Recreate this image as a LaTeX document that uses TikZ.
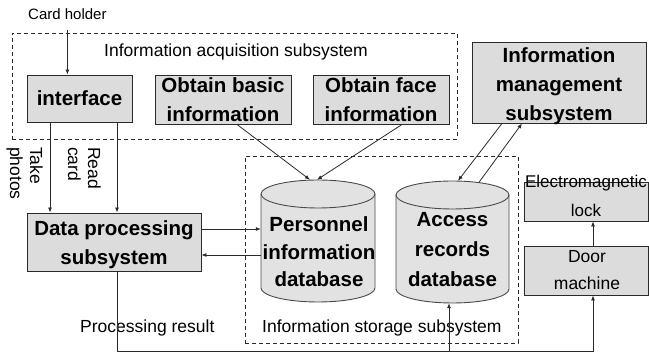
\documentclass[tikz,border=0pt]{standalone}
\usepackage{fontspec}
\setmainfont{Liberation Sans}
\usetikzlibrary{arrows.meta}
\definecolor{boxfill}{HTML}{DCDCDC}
\definecolor{cylfill}{HTML}{E2E2E2}
\definecolor{edge}{HTML}{2A2A2A}
\definecolor{cyledge}{HTML}{4A4A4A}
\begin{document}
\begin{tikzpicture}[x=1pt,y=1pt,
  box/.style={draw=edge, fill=boxfill, line width=0.9pt, inner sep=0pt},
  dashbox/.style={draw=edge, dash pattern=on 4pt off 3pt, line width=0.8pt, inner sep=0pt},
  txt/.style n args={3}{font=\fontsize{#1}{#2}\selectfont#3, align=center, inner sep=0pt},
  bold/.style={txt={20.5}{29}{\bfseries}},
  lbl/.style={font=\fontsize{17.5}{20}\selectfont, inner sep=0pt},
  rotlbl/.style={font=\fontsize{17.5}{20}\selectfont, inner sep=0pt, align=left, rotate=-90, anchor=north west},
  cyl/.style={draw=cyledge, fill=cylfill, line width=0.9pt},
  cylline/.style={draw=cyledge, line width=0.9pt},
  arr/.style={-{Latex[length=5pt,width=4pt]}, line width=0.8pt, draw=edge},
]
\useasboundingbox (0,0) rectangle (649,353);

% subsystem frames and free labels
\node[dashbox, minimum width=445pt, minimum height=106pt] (acq) at (234.5,267) {};
\node[lbl, anchor=base west] (acqt) at (104,296.5) {Information acquisition subsystem};
\node[dashbox, minimum width=273pt, minimum height=187pt] (sto) at (381.5,103.5) {};
\node[lbl, anchor=base west] (stot) at (262,20) {Information storage subsystem};
\node[lbl, anchor=base west] (prt) at (80,20) {Processing result};
\node[font=\fontsize{15}{18}\selectfont, inner sep=0pt, anchor=base west] (ch) at (28,333) {Card holder};

% boxes
\node[box, bold, minimum width=105pt, minimum height=47pt] (iface) at (79.5,254.5) {interface};
\node[box, bold, minimum width=136pt, minimum height=49pt] (basic) at (223,253.5) {Obtain basic\\information};
\node[box, bold, minimum width=136pt, minimum height=49pt] (face) at (381,253.5) {Obtain face\\information};
\node[box, minimum width=174pt, minimum height=81pt] (mgmt) at (559,270.5) {};
\node[bold] (mgmtt) at (559,267.2) {Information\\management\\subsystem};
\node[box, minimum width=174pt, minimum height=58pt] (dp) at (114,111) {};
\node[bold] (dpt) at (114,108.7) {Data processing\\subsystem};
\node[box, minimum width=124pt, minimum height=39pt] (lock) at (586,151.5) {};
\node[txt={17}{29}{}] (lockt) at (586,156.75) {Electromagnetic\\lock};
\node[box, minimum width=124pt, minimum height=49pt] (door) at (586,82.5) {};
\node[txt={17.5}{27}{}] (doort) at (587,82.75) {Door\\machine};

% cylinders
\node[inner sep=0pt, minimum width=114pt, minimum height=122pt] (pers) at (318,112) {};
\draw[cyl] (261,159) -- (261,65) arc[start angle=180,end angle=360,x radius=57pt,y radius=14pt]
  -- (375,159) arc[start angle=0,end angle=180,x radius=57pt,y radius=14pt] -- cycle;
\draw[cylline] (261,159) arc[start angle=180,end angle=360,x radius=57pt,y radius=14pt];
\node[txt={20.5}{27.5}{\bfseries}] (perst) at (319,100.85) {Personnel\\information\\database};

\node[inner sep=0pt, minimum width=113pt, minimum height=122pt] (acc) at (452.5,111) {};
\draw[cyl] (396,158) -- (396,64) arc[start angle=180,end angle=360,x radius=56.5pt,y radius=14pt]
  -- (509,158) arc[start angle=0,end angle=180,x radius=56.5pt,y radius=14pt] -- cycle;
\draw[cylline] (396,158) arc[start angle=180,end angle=360,x radius=56.5pt,y radius=14pt];
\node[txt={20.5}{30}{\bfseries}] (acct) at (452.5,103.35) {Access\\records\\database};

% connectors
\draw[arr, shorten <=10pt] (ch.south) -- (ch.south |- iface.north);

\coordinate (tp) at ([xshift=-29.5pt]iface.south);
\coordinate (rc) at ([xshift=37.5pt]iface.south);
\draw[arr] (tp) -- (tp |- dp.north);
\draw[arr] (rc) -- (rc |- dp.north);
\node[rotlbl] (takel) at (43,206) {Take\\photos};
\node[rotlbl] (readl) at (101,206) {Read\\card};

\draw[arr] ([xshift=14pt]basic.south) -- ([xshift=-8pt]pers.north);
\draw[arr] ([xshift=21pt]face.south) -- ([xshift=-1pt]pers.north);

\draw[arr] ([xshift=-57pt]mgmt.south) -- ([xshift=5.5pt]acc.north);
\draw[arr] ([xshift=26.5pt,yshift=-1.5pt]acc.north) -- ([xshift=-37pt]mgmt.south);

\draw[arr] ([yshift=13pt]dp.east) -- ([yshift=12pt]pers.west);
\draw[arr] ([yshift=-14pt]pers.west) -- ([yshift=-13pt]dp.east);

\coordinate (dpo) at ([xshift=3pt]dp.south);
\coordinate (dri) at ([xshift=7pt]door.south);
\coordinate (aci) at ([xshift=-3.5pt]acc.south);
\coordinate (base) at (0,2);
\draw[arr] (dpo) -- (dpo |- base) -- (dri |- base) -- (dri);
\draw[arr] (aci |- base) -- (aci);

\coordinate (dro) at ([xshift=7pt]door.north);
\draw[arr] (dro) -- (dro |- lock.south);
\end{tikzpicture}
\end{document}
